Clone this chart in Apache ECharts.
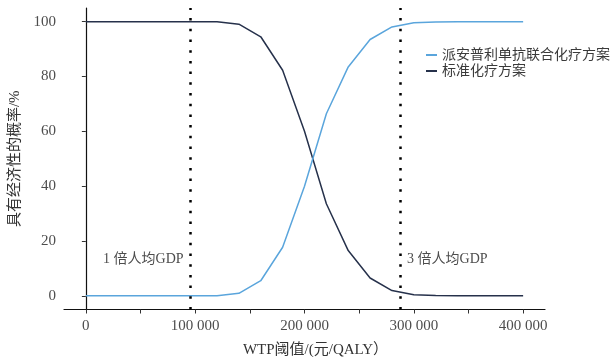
<!DOCTYPE html>
<html>
<head>
<meta charset="utf-8">
<script src="https://cdn.jsdelivr.net/npm/echarts@6/dist/echarts.min.js"></script>
<style>html,body{margin:0;padding:0;background:#fff}#c{width:611px;height:357px}</style>
</head>
<body>
<div id="c"></div>
<script>
var wtp = [0, 20000, 40000, 60000, 80000, 100000, 120000, 140000, 160000, 180000, 200000,
           220000, 240000, 260000, 280000, 300000, 320000, 340000, 360000, 380000, 400000];
var seriesNames = ['派安普利单抗联合化疗方案', '标准化疗方案'];
var combo = [0, 0, 0, 0, 0, 0, 0, 0.9, 5.5, 17.7, 40, 66.4, 83.5, 93.5, 98.1, 99.6, 99.9, 100, 100, 100, 100];
var standard = [100, 100, 100, 100, 100, 100, 100, 99.1, 94.5, 82.3, 60, 33.6, 16.5, 6.5, 1.9, 0.4, 0.1, 0, 0, 0, 0];
var gdpLines = [95800, 287400];
var gdpLabels = ['1 倍人均GDP', '3 倍人均GDP'];
var xLabelValues = [0, 100000, 200000, 300000, 400000];
var xTickValues = [0, 50000, 100000, 150000, 200000, 250000, 300000, 350000, 400000];
var yTickValues = [0, 20, 40, 60, 80, 100];

var FONT = "'Liberation Serif', 'Noto Sans CJK SC', serif";
var TXT = '#4d4d4d';

function fmt(v) {
  return String(v).replace(/\B(?=(\d{3})+(?!\d))/g, ' ');
}
function pairs(ys) { return wtp.map(function (x, i) { return [x, ys[i]]; }); }

var chart = echarts.init(document.getElementById('c'));
chart.setOption({
  animation: false,
  backgroundColor: '#fff',
  grid: { left: 64, right: 66, top: 8, bottom: 47.5, outerBoundsMode: 'none', containLabel: false },
  legend: {
    orient: 'vertical', left: 421, top: 42, itemGap: 0,
    itemWidth: 11, itemHeight: 2, icon: 'rect',
    textStyle: { fontFamily: FONT, fontSize: 14, color: '#3a3a3a', lineHeight: 16 },
    data: seriesNames
  },
  xAxis: {
    type: 'value', min: -20000, max: 420000,
    name: 'WTP阈值/(元/QALY）', nameLocation: 'middle', nameGap: 33,
    nameTextStyle: { fontFamily: FONT, fontSize: 15, color: '#333', padding: [0, 0, 0, 22] },
    axisLine: { onZero: false, lineStyle: { color: '#111', width: 1.2 } },
    axisTick: { show: true, length: 4, customValues: xTickValues, lineStyle: { color: '#333' } },
    axisLabel: { customValues: xLabelValues, formatter: fmt, fontFamily: FONT, fontSize: 15, color: TXT, margin: 9 },
    splitLine: { show: false }
  },
  yAxis: {
    type: 'value', min: -5, max: 105,
    name: '具有经济性的概率/%', nameLocation: 'middle', nameGap: 41,
    nameTextStyle: { fontFamily: FONT, fontSize: 15, color: '#333' },
    axisLine: { show: true, lineStyle: { color: '#111', width: 1.2 } },
    axisTick: { show: true, length: 4, customValues: yTickValues, lineStyle: { color: '#333' } },
    axisLabel: { customValues: yTickValues, fontFamily: FONT, fontSize: 15, color: TXT, margin: 8 },
    splitLine: { show: false }
  },
  series: [
    {
      name: seriesNames[0], type: 'line', data: pairs(combo), showSymbol: false,
      lineStyle: { color: '#5aa5dc', width: 1.5 }, itemStyle: { color: '#5aa5dc' },
      markLine: {
        silent: true, symbol: 'none', animation: false,
        lineStyle: { color: '#000', width: 2.5, type: [2.5, 8.2] },
        label: { show: false },
        data: gdpLines.map(function (v) { return { xAxis: v }; })
      },
      markPoint: {
        silent: true, symbolSize: 0,
        data: gdpLines.map(function (v, i) {
          return {
            coord: [v, 13.3], value: gdpLabels[i],
            label: {
              show: true, formatter: gdpLabels[i], position: i === 0 ? 'left' : 'right', distance: 7,
              fontFamily: FONT, fontSize: 14, color: TXT
            }
          };
        })
      },
      z: 3
    },
    {
      name: seriesNames[1], type: 'line', data: pairs(standard), showSymbol: false,
      lineStyle: { color: '#26314b', width: 1.5 }, itemStyle: { color: '#26314b' },
      z: 2
    }
  ]
});
</script>
</body>
</html>
